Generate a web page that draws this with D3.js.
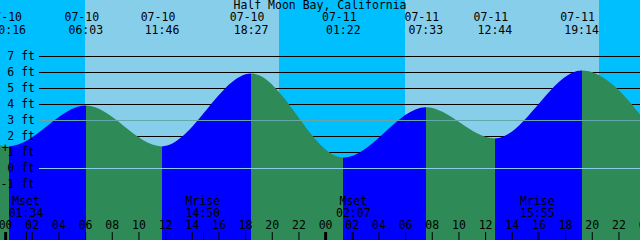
<!DOCTYPE html>
<html><head><meta charset="utf-8">
<script src="https://cdn.jsdelivr.net/npm/d3@7"></script>
<style>
html,body{margin:0;padding:0;background:#fff;}
svg{display:block;}
text{font-family:"DejaVu Sans Mono","Liberation Mono",monospace;font-size:11.5px;fill:#000;}
</style></head>
<body>
<svg id="chart" width="640" height="240"></svg>
<script>
// ---- data ----
const title = "Half Moon Bay, California";
const domainStart = "07-09 23:37";
const domainEnd = "07-11 23:37";
// tide extremes (first and last lie just outside the visible window)
const tideTimes   = ["07-09 17:40","07-10 00:16","07-10 06:03","07-10 11:46","07-10 18:27","07-11 01:22","07-11 07:33","07-11 12:44","07-11 19:14","07-12 02:25"];
const tideHeights = [5.8, 1.35, 3.9, 1.35, 5.9, 0.65, 3.8, 1.85, 6.1, -0.1];
const sunrises = ["07-10 06:00","07-11 06:00"];
const sunsets  = ["07-10 20:33","07-11 20:33"];
const moonTimes  = ["07-10 01:34","07-10 14:50","07-11 02:07","07-11 15:55"];
const moonLabels = ["Mset","Mrise","Mset","Mrise"];
const feetTicks = [-1,0,1,2,3,4,5,6,7];
const mslLevel = 3;
const datumLevel = 0;
const markerTime = "07-10 00:00";
const markerHeight = 1.25;

// ---- setup ----
const parse = d3.utcParse("%m-%d %H:%M");
const W = 640, H = 240;
const svg = d3.select("#chart");
const x = d3.scaleUtc().domain([parse(domainStart), parse(domainEnd)]).range([0, W]);
const y = d3.scaleLinear().domain([-1, 7]).range([184, 56]);

const tides = tideTimes.map((t,i)=>({t:parse(t), h:tideHeights[i]}));
const C = {night:"#00BFFF", day:"#87CEEB", rise:"#0000FF", fall:"#2E8B57", msl:"#62a8a8", datum:"#87CEEB"};

// ---- day / night background ----
const dom = x.domain();
const nightSpans = [];
let prev = new Date(dom[0].getTime() - 3600e3);
sunrises.forEach((sr,i)=>{
  nightSpans.push([prev, parse(sr)]);
  prev = parse(sunsets[i]);
});
nightSpans.push([prev, new Date(dom[1].getTime() + 3600e3)]);
svg.append("rect").attr("width",W).attr("height",H).attr("fill",C.day);
svg.append("g").selectAll("rect").data(nightSpans).join("rect")
  .attr("x",d=>Math.round(x(d[0]))).attr("y",0)
  .attr("width",d=>Math.round(x(d[1]))-Math.round(x(d[0]))).attr("height",H)
  .attr("fill",C.night);

// ---- grid lines (behind water) ----
const gridAxis = d3.axisLeft(y).tickValues(feetTicks).tickSizeInner(-(W-39)).tickSizeOuter(0).tickFormat("");
const gGrid = svg.append("g").attr("transform","translate(39,0)").call(gridAxis);
gGrid.select(".domain").remove();
gGrid.selectAll("line").attr("stroke","#000").attr("shape-rendering","crispEdges");

// ---- water ----
const area = d3.area().x(d=>x(d.t)).y0(H).y1(d=>y(d.h)).curve(d3.curveMonotoneX);
svg.append("clipPath").attr("id","water").append("path").attr("d",area(tides));
const segs = d3.pairs(tides);
svg.append("g").attr("clip-path","url(#water)").selectAll("rect").data(segs).join("rect")
  .attr("x",d=>x(d[0].t)).attr("y",0)
  .attr("width",d=>x(d[1].t)-x(d[0].t)).attr("height",H)
  .attr("fill",d=> d[1].h > d[0].h ? C.rise : C.fall)
  .attr("shape-rendering","crispEdges");

// ---- msl and datum lines ----
svg.append("line").attr("x1",39).attr("x2",W).attr("y1",y(mslLevel)+0.5).attr("y2",y(mslLevel)+0.5)
  .attr("stroke",C.msl).attr("shape-rendering","crispEdges");
svg.append("line").attr("x1",39).attr("x2",W).attr("y1",y(datumLevel)+0.5).attr("y2",y(datumLevel)+0.5)
  .attr("stroke",C.datum).attr("shape-rendering","crispEdges");

// ---- y labels (on top) ----
const labAxis = d3.axisLeft(y).tickValues(feetTicks).tickSize(0).tickPadding(4).tickFormat(d=>`${d} ft`);
const gLab = svg.append("g").attr("transform","translate(39,0)").call(labAxis);
gLab.select(".domain").remove();
gLab.selectAll("text").attr("font-family",null).attr("font-size",null).attr("fill","#000");

// marker
svg.append("text").attr("x",x(parse(markerTime))).attr("y",y(markerHeight)).attr("dy","0.35em")
  .attr("text-anchor","middle").text("+");

// ---- title ----
svg.append("text").attr("x",W/2).attr("y",9).attr("text-anchor","middle").text(title);

// ---- tide time labels ----
const visible = tides.filter(d=>d.t>=new Date(dom[0].getTime()-3600e3) && d.t<=dom[1]);
const fDate = d3.utcFormat("%m-%d"), fTime = d3.utcFormat("%H:%M");
const gT = svg.append("g");
gT.selectAll("text.d").data(visible).join("text").attr("class","d")
  .attr("x",d=>x(d.t)-4).attr("y",21).attr("text-anchor","middle").text(d=>fDate(d.t));
gT.selectAll("text.t").data(visible).join("text").attr("class","t")
  .attr("x",d=>x(d.t)).attr("y",34).attr("text-anchor","middle").text(d=>fTime(d.t));

// ---- moon labels ----
const moons = moonTimes.map((t,i)=>({t:parse(t), label:moonLabels[i]}));
const gM = svg.append("g");
gM.selectAll("text.l").data(moons).join("text").attr("class","l")
  .attr("x",d=>x(d.t)).attr("y",205).attr("text-anchor","middle").text(d=>d.label);
gM.selectAll("text.t").data(moons).join("text").attr("class","t")
  .attr("x",d=>x(d.t)).attr("y",216.5).attr("text-anchor","middle").text(d=>fTime(d.t));
gM.selectAll("line").data(moons).join("line")
  .attr("x1",d=>Math.round(x(d.t))+0.5).attr("x2",d=>Math.round(x(d.t))+0.5)
  .attr("y1",232).attr("y2",H).attr("stroke","#000");

// ---- hour axis ----
const hourTicks = d3.utcHour.every(2).range(parse("07-10 00:00"), parse("07-12 00:01"));
const xAxis = d3.axisTop(x).tickValues(hourTicks).tickSizeInner(8).tickSizeOuter(0).tickPadding(3)
  .tickFormat(d3.utcFormat("%H"));
const gX = svg.append("g").attr("transform",`translate(0,${H})`).call(xAxis);
gX.select(".domain").remove();
gX.selectAll("text").attr("font-family",null).attr("font-size",null).attr("fill","#000");
gX.selectAll("line").attr("stroke","#000");
gX.selectAll(".tick").filter(d=>d.getUTCHours()===0).select("line").attr("stroke-width",3);
</script>
</body></html>
